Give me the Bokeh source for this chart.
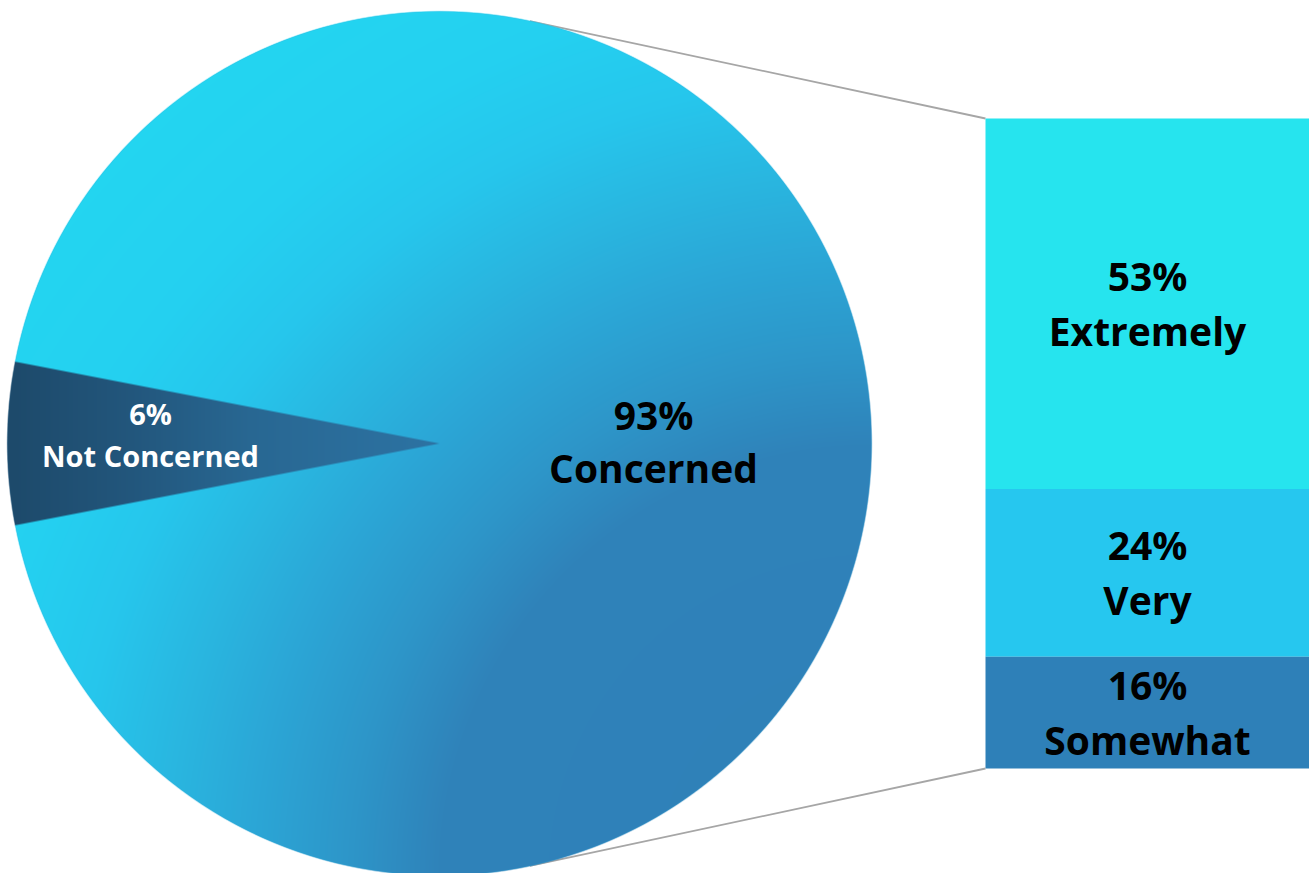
import numpy as np
from bokeh.plotting import figure
from bokeh.models import Range1d
from bokeh.embed import file_html
from bokeh.resources import INLINE
from bokeh.core.properties import value

# ---------------- data ----------------
pie_labels = ["Not Concerned", "Concerned"]
pie_values = [6, 93]
bar_labels = ["Extremely", "Very", "Somewhat"]
bar_values = [53, 24, 16]

# ---------------- styles ----------------
pie_base_colors = ["#25608A", "#2AA6D6"]
pie_text_colors = ["white", "black"]
bar_colors = ["#26E4EE", "#26C7EF", "#2E80B8"]
# radial gradient (distance from lower-right corner) for "Concerned"
grad_d = [0, 430, 520, 620, 700, 800, 900, 1250]
grad_c = ["#2F80B8", "#2F82B9", "#2D95C8", "#2BA6D6", "#29B5DF", "#26C6EC", "#24D0F0", "#22DCEF"]
# horizontal gradient for "Not Concerned"
nc_x = [15, 130, 250, 430]
nc_c = ["#1D4A6B", "#22567C", "#286792", "#2C72A2"]

W, H = 1309, 873
CX, CY, R = 439, 430, 432
BAR_X0, BAR_X1 = 985, 1309
BAR_TOP, BAR_BOTTOM = 755, 105
FONT = value("Open Sans")

p = figure(width=W, height=H, x_range=Range1d(0, W), y_range=Range1d(873 - H, 873),
           output_backend="svg", toolbar_location=None, min_border=0,
           x_axis_location=None, y_axis_location=None)
p.grid.visible = False
p.outline_line_color = None
p.background_fill_color = "white"
p.border_fill_color = "white"

# ---------------- bar (secondary) geometry ----------------
scale = (BAR_TOP - BAR_BOTTOM) / sum(bar_values)
tops, bottoms = [], []
cur = BAR_TOP
for v in bar_values:
    tops.append(cur)
    cur = cur - v * scale
    bottoms.append(cur)

# ---------------- connector lines (tangent to pie) ----------------
def tangent_point(px, py, sign):
    dxp, dyp = px - CX, py - CY
    d = np.hypot(dxp, dyp)
    ang = np.arctan2(dyp, dxp) + sign * np.arccos(R / d)
    return CX + R * np.cos(ang), CY + R * np.sin(ang)

tx, ty = tangent_point(BAR_X0, BAR_TOP, +1)
bx, by = tangent_point(BAR_X0, BAR_BOTTOM, -1)
p.segment(x0=[tx, bx], y0=[ty, by], x1=[BAR_X0, BAR_X0], y1=[BAR_TOP, BAR_BOTTOM],
          line_color="#A6A6A6", line_width=1.8)

# ---------------- pie wedges ----------------
total = sum(pie_values)
half = np.pi * pie_values[0] / total
starts = [np.pi - half, np.pi + half]
ends = [np.pi + half, np.pi - half + 2 * np.pi]
p.wedge(x=CX, y=CY, radius=R, start_angle=starts, end_angle=ends,
        fill_color=pie_base_colors, line_color=None)

# gradient shading of the wedges
def hex_rgb(cols):
    return np.array([[int(c[i:i + 2], 16) for i in (1, 3, 5)] for c in cols], float)

def interp(t, stops, cols):
    rgb = hex_rgb(cols)
    return np.stack([np.interp(t, stops, rgb[:, k]) for k in range(3)], -1)

n = 2 * R + 6
x0, y0 = CX - R - 3, CY - R - 3
X, Y = np.meshgrid(x0 + np.arange(n) + 0.5, y0 + np.arange(n) + 0.5)
dx, dy = X - CX, Y - CY
dist = np.hypot(dx, dy)
alpha = np.clip(R + 0.7 - dist, 0, 1)
conc = interp(np.hypot(X - (CX + R), Y - (CY - R - 2)), grad_d, grad_c)
ncol = interp(X, nc_x, nc_c)
u = -dx
sd = u * np.sin(half) - np.abs(dy) * np.cos(half)
w = (np.clip(sd + 0.5, 0, 1) * (u > 0))[..., None]
rgb = ncol * w + conc * (1 - w)
img = np.zeros((n, n, 4), np.uint8)
img[..., :3] = np.round(rgb).astype(np.uint8)
img[..., 3] = np.round(alpha * 255).astype(np.uint8)
p.image_rgba(image=[img.view(np.uint32).reshape(n, n)], x=x0, y=y0, dw=n, dh=n)

# ---------------- bars ----------------
p.quad(left=BAR_X0, right=BAR_X1, top=tops, bottom=bottoms,
       fill_color=bar_colors, line_color=None)

# ---------------- labels ----------------
BIG, SMALL = 39, 29
def lift(size):
    return 0.46 * size

# pie labels
lx = [CX - 289, CX + 214]
ly1 = [CY + 17, CY + 11]
ly2 = [CY - 25, CY - 42]
sizes = [SMALL, BIG]
for i in range(2):
    s = sizes[i]
    p.text(x=[lx[i], lx[i]], y=[ly1[i] + lift(s), ly2[i] + lift(s)],
           text=[f"{pie_values[i]}%", pie_labels[i]],
           text_font=FONT, text_font_style="bold", text_font_size=f"{s}px",
           text_align="center", text_baseline="alphabetic", text_color=pie_text_colors[i])

# bar labels
bxc = (BAR_X0 + BAR_X1) / 2
for lab, v, t, b in zip(bar_labels, bar_values, tops, bottoms):
    c = (t + b) / 2
    p.text(x=[bxc, bxc], y=[c + 10 + lift(BIG), c - 45 + lift(BIG)], text=[f"{v}%", lab],
           text_font=FONT, text_font_style="bold", text_font_size=f"{BIG}px",
           text_align="center", text_baseline="alphabetic", text_color="black")

open("out.html", "w").write(file_html(p, INLINE))
